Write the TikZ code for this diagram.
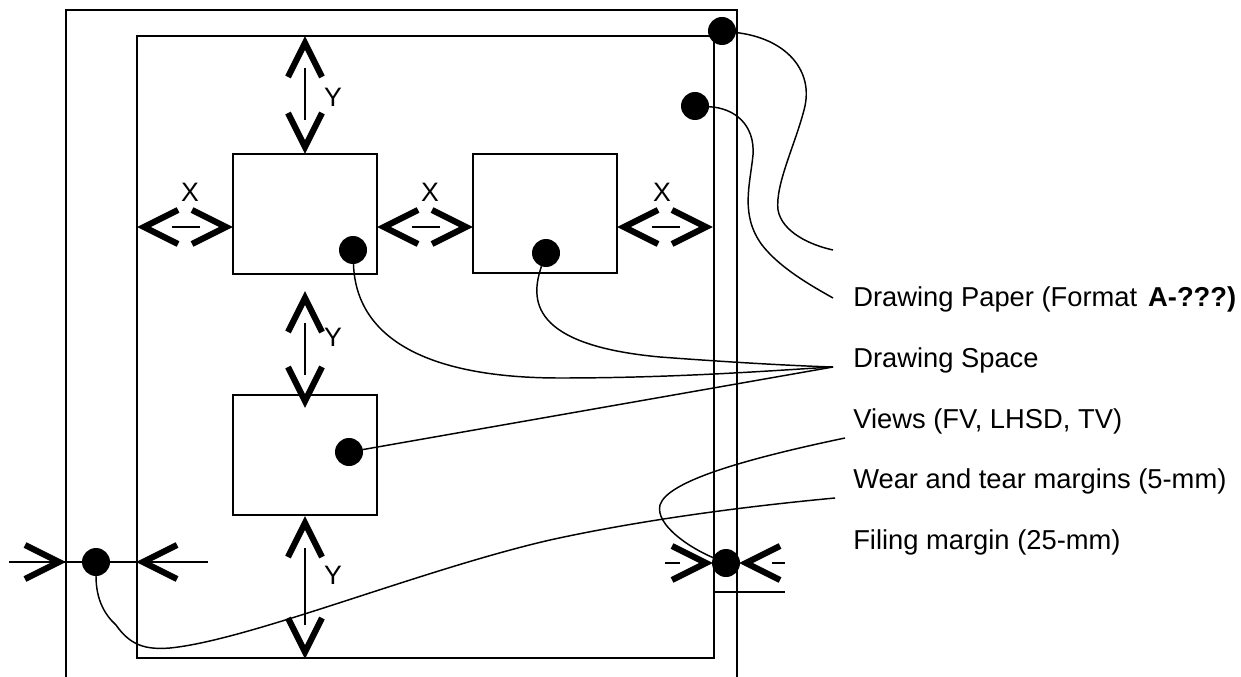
\documentclass[tikz,border=0pt]{standalone}
\usepackage{fontspec}
\setmainfont{Liberation Sans}
\tikzset{
  frame/.style={line width=1.5pt},
  lead/.style={line width=1.1pt},
  shaft/.style={line width=1.5pt},
  chevline/.style={line width=4.6pt, line join=miter, line cap=butt},
  dot/.style={circle, fill=black, minimum size=21pt, inner sep=0pt, outer sep=0pt},
  lbl/.style={font=\fontsize{20.5}{24}\selectfont, anchor=base west, inner sep=0pt},
  xy/.style={font=\fontsize{20}{24}\selectfont, inner sep=0pt},
  chevR/.pic={\draw[chevline] (-34,-17) -- (0,0) -- (-34,17);},
  chevL/.pic={\draw[chevline] (34,-17) -- (0,0) -- (34,17);},
  chevU/.pic={\draw[chevline] (-17,34) -- (0,0) -- (17,34);},
  chevD/.pic={\draw[chevline] (-17,-34) -- (0,0) -- (17,-34);}
}
\begin{document}
\begin{tikzpicture}[x=0.75pt,y=-0.75pt]
\useasboundingbox (0,0) rectangle (1241,677);
% paper and drawing space
\draw[frame] (66,677) -- (66,10) -- (737,10) -- (737,677);
\draw[frame] (137,36) rectangle (714,658);
\draw[frame] (714,592) -- (785,592);
% views
\node[draw, frame, minimum width=108pt, minimum height=90pt, inner sep=0pt] (v1) at (305,214) {};
\node[draw, frame, minimum width=108pt, minimum height=89pt, inner sep=0pt] (v2) at (545,213.5) {};
\node[draw, frame, minimum width=108pt, minimum height=90pt, inner sep=0pt] (v3) at (305,455) {};
% X spacings
\pic at (144,227) {chevL}; \pic at (226,227) {chevR};
\draw[shaft] (172,227) -- (200,227);
\node[xy] (x1) at (190,192) {X};
\pic at (384,227) {chevL}; \pic at (466,227) {chevR};
\draw[shaft] (412,227) -- (440,227);
\node[xy] (x2) at (430,192) {X};
\pic at (624,227) {chevL}; \pic at (706,227) {chevR};
\draw[shaft] (652,227) -- (680,227);
\node[xy] (x3) at (662,192) {X};
% Y spacings
\pic at (305,43) {chevU}; \pic at (305,147) {chevD};
\draw[shaft] (305,68) -- (305,120);
\node[xy] (y1) at (333,97) {Y};
\pic at (305,298) {chevU}; \pic at (305,401) {chevD};
\draw[shaft] (305,323) -- (305,375);
\node[xy] (y2) at (333,337) {Y};
\pic at (305,523) {chevU}; \pic at (305,652) {chevD};
\draw[shaft] (305,548) -- (305,625);
\node[xy] (y3) at (333,575) {Y};
% margins
\draw[shaft] (9,562) -- (208,562);
\pic at (59,562) {chevR}; \pic at (143,562) {chevL};
\pic at (706,563) {chevR}; \pic at (746,563) {chevL};
\draw[shaft] (665,563) -- (680,563);
\draw[shaft] (772,563) -- (785,563);
% dots
\node[dot] (dT) at (722,31) {};
\node[dot] (dS) at (695,106) {};
\node[dot] (d1) at (353,250) {};
\node[dot] (d2) at (546,253) {};
\node[dot] (d3) at (349,452) {};
\node[dot] (dL) at (96,562) {};
\node[dot] (dB) at (726,563) {};
% leader ends
\coordinate (pA) at (833,250);
\coordinate (pB) at (833,298);
\coordinate (pC) at (833,367);
\coordinate (pD) at (845,438);
\coordinate (pE) at (835,498);
% labels
\node[lbl] (t1) at (853,306) {Drawing Paper (Format~\hspace{0.12em}\textbf{A-???)}};
\node[lbl] (t2) at (853,367) {Drawing Space};
\node[lbl] (t3) at (853,428) {Views (FV, LHSD, TV)};
\node[lbl] (t4) at (853,488) {Wear and tear margins (5-mm)};
\node[lbl] (t5) at (853,549) {Filing margin (25-mm)};
% leaders
\draw[lead] (dT) .. controls (785,38) and (815,70) .. (804,110) .. controls (795,145) and (775,185) .. (778,210) .. controls (782,232) and (810,245) .. (pA);
\draw[lead] (dS) .. controls (735,108) and (755,125) .. (753,155) .. controls (750,185) and (740,215) .. (762,245) .. controls (780,268) and (810,285) .. (pB);
\draw[lead] (d1) .. controls (356,340) and (430,378) .. (560,378) .. controls (680,378) and (780,370) .. (pC);
\draw[lead] (d2) .. controls (530,300) and (530,345) .. (660,357) .. controls (740,363) and (800,366) .. (pC);
\draw[lead] (d3) -- (pC);
\draw[lead] (dB) .. controls (690,548) and (655,525) .. (660,505) .. controls (667,482) and (740,460) .. (pD);
\draw[lead] (dL) .. controls (96,600) and (105,615) .. (116,625) .. controls (130,645) and (145,650) .. (170,648) .. controls (250,640) and (420,570) .. (550,540) .. controls (650,518) and (760,505) .. (pE);
\end{tikzpicture}
\end{document}
